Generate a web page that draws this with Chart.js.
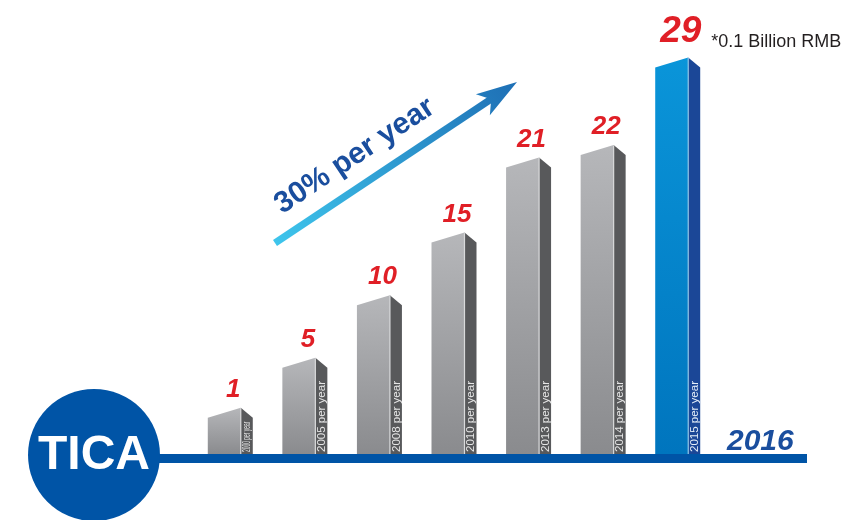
<!DOCTYPE html>
<html>
<head>
<meta charset="utf-8">
<script src="https://cdn.jsdelivr.net/npm/chart.js@4.4.1/dist/chart.umd.min.js"></script>
<style>
    html, body { margin: 0; padding: 0; background: #ffffff; }
    #wrap { width: 859px; height: 520px; position: relative; }
</style>
</head>
<body>
<div id="wrap"><canvas id="chartTica"></canvas></div>
<script>
// data
const years = ['2000', '2005', '2008', '2010', '2013', '2014', '2015'];
const values = [1, 5, 10, 15, 21, 22, 29];
const unitNote = '*0.1 Billion RMB';
const growthNote = '30% per year';
const endYear = '2016';
const brandName = 'TICA';

const FONT = '"Liberation Sans", Arial, sans-serif';
const AXIS_MIN = -2.7;   // bars start a little below zero, like the poster
const SLANT = 10;        // drop of the slanted top edge
const SIDE_W = 12;       // width of the dark side face
const BLUE = '#0054a6';

// ==========================================
// plugin: 3D bars, labels and decorations
// ==========================================
const posterPlugin = {
    id: 'poster',
    afterDatasetsDraw(chart) {
        const ctx = chart.ctx;
        const meta = chart.getDatasetMeta(0);
        const last = values.length - 1;

        meta.data.forEach(function (el, i) {
            const x0 = el.x - el.width / 2;
            const x1 = el.x + el.width / 2;
            const x2 = x1 + SIDE_W;
            const y = el.y;
            const base = el.base;
            const isLast = i === last;

            // front face
            const grad = ctx.createLinearGradient(0, y, 0, base);
            if (isLast) {
                grad.addColorStop(0, '#0a95d9');
                grad.addColorStop(1, '#0075be');
            } else {
                grad.addColorStop(0, '#b6b7ba');
                grad.addColorStop(1, '#8a8b8e');
            }
            ctx.save();
            ctx.fillStyle = grad;
            ctx.beginPath();
            ctx.moveTo(x0, y + SLANT);
            ctx.lineTo(x1, y);
            ctx.lineTo(x1, base);
            ctx.lineTo(x0, base);
            ctx.closePath();
            ctx.fill();

            // side face
            ctx.fillStyle = isLast ? '#1b4797' : '#58595b';
            ctx.beginPath();
            ctx.moveTo(x1, y);
            ctx.lineTo(x2, y + SLANT);
            ctx.lineTo(x2, base);
            ctx.lineTo(x1, base);
            ctx.closePath();
            ctx.fill();

            // thin edge highlight
            ctx.strokeStyle = isLast ? '#8ec5e8' : '#d9dadb';
            ctx.lineWidth = 1.2;
            ctx.beginPath();
            ctx.moveTo(x1, y + 0.5);
            ctx.lineTo(x1, base);
            ctx.stroke();

            // "xxxx per year" along the side face
            ctx.save();
            ctx.translate(x1 + SIDE_W / 2 + 0.5, base - 2);
            ctx.rotate(-Math.PI / 2);
            ctx.fillStyle = isLast ? '#e4eef8' : '#e6e6e6';
            ctx.font = '11.5px ' + FONT;
            ctx.textAlign = 'left';
            ctx.textBaseline = 'middle';
            ctx.fillText(years[i] + ' per year', 0, 0, base - (y + SLANT) - 6);
            ctx.restore();

            // value label
            const size = isLast ? 37 : 26;
            ctx.font = 'italic bold ' + size + 'px ' + FONT;
            ctx.fillStyle = '#e01f26';
            ctx.textAlign = 'center';
            ctx.textBaseline = 'alphabetic';
            const lx = el.x + 9;
            const ly = y - (isLast ? 16 : 11);
            ctx.fillText(String(values[i]), lx, ly);

            if (isLast) {
                const w = ctx.measureText(String(values[i])).width;
                ctx.font = '18px ' + FONT;
                ctx.fillStyle = '#231f20';
                ctx.textAlign = 'left';
                ctx.fillText(unitNote, lx + w / 2 + 10, ly + 5);
            }
            ctx.restore();
        });

        const area = chart.chartArea;

        // baseline band
        ctx.save();
        ctx.fillStyle = BLUE;
        ctx.fillRect(150, area.bottom, 657, 9);

        // brand circle
        ctx.beginPath();
        ctx.arc(94, area.bottom + 1, 66, 0, Math.PI * 2);
        ctx.fill();
        ctx.fillStyle = '#ffffff';
        ctx.font = 'bold 48px ' + FONT;
        ctx.textAlign = 'center';
        ctx.textBaseline = 'middle';
        ctx.fillText(brandName, 94, area.bottom + 2);

        // end year
        ctx.fillStyle = '#1a4e9e';
        ctx.font = 'italic bold 30px ' + FONT;
        ctx.textAlign = 'left';
        ctx.textBaseline = 'alphabetic';
        ctx.fillText(endYear, 727, area.bottom - 4);

        // growth arrow
        const sx = 275, sy = 243, tx = 517, ty = 82;
        const len = Math.hypot(tx - sx, ty - sy);
        const ang = Math.atan2(ty - sy, tx - sx);
        ctx.translate(sx, sy);
        ctx.rotate(ang);
        const ag = ctx.createLinearGradient(0, 0, len, 0);
        ag.addColorStop(0, '#3ec5ec');
        ag.addColorStop(1, '#1e6fb5');
        ctx.fillStyle = ag;
        ctx.fillRect(0, -3.6, len - 30, 7.2);
        ctx.beginPath();
        ctx.moveTo(len, 0);
        ctx.lineTo(len - 41, -12.6);
        ctx.lineTo(len - 31, 0);
        ctx.lineTo(len - 41, 12.6);
        ctx.closePath();
        ctx.fill();

        ctx.fillStyle = '#1a4e9e';
        ctx.font = 'bold 30px ' + FONT;
        ctx.textAlign = 'left';
        ctx.textBaseline = 'alphabetic';
        ctx.fillText(growthNote, 22, -20);
        ctx.restore();
    }
};

// ==========================================
// BAR CHART
// ==========================================
const ctxTica = document.getElementById('chartTica');

new Chart(ctxTica, {
    type: 'bar',
    data: {
        labels: years,
        datasets: [{
            label: 'TICA',
            data: values,
            base: AXIS_MIN,
            backgroundColor: 'rgba(0, 0, 0, 0)',
            borderWidth: 0,
            barThickness: 33
        }]
    },
    options: {
        responsive: true,
        maintainAspectRatio: false,
        animation: false,
        layout: {
            padding: { top: 20, bottom: 66, left: 187, right: 150 }
        },
        plugins: {
            legend: { display: false },
            tooltip: { enabled: false }
        },
        scales: {
            x: { display: false },
            y: { display: false, min: AXIS_MIN, max: 32 }
        }
    },
    plugins: [posterPlugin]
});
</script>
</body>
</html>
